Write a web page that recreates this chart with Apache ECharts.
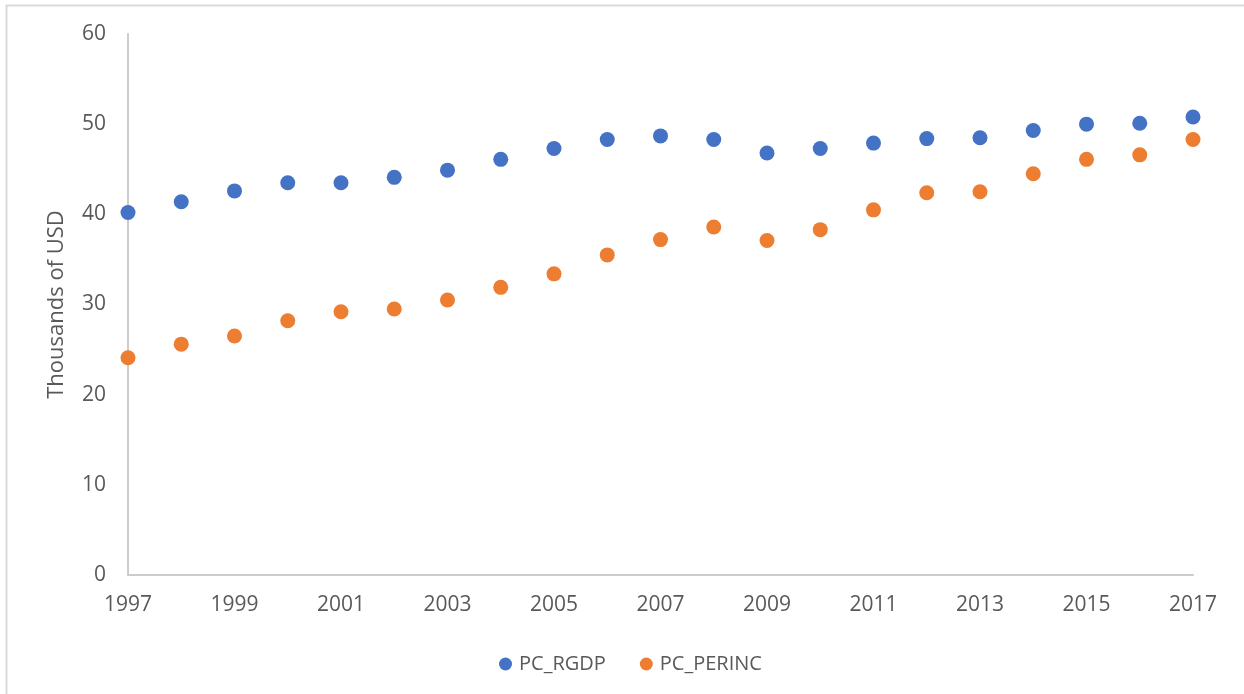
<!DOCTYPE html>
<html>
<head>
<meta charset="utf-8">
<script src="https://cdn.jsdelivr.net/npm/echarts@6/dist/echarts.min.js"></script>
<style>
  html, body { margin: 0; padding: 0; background: #ffffff; }
  #chart { width: 1244px; height: 694px; }
</style>
</head>
<body>
<div id="chart"></div>
<script>
// Per-capita real GDP and personal income, thousands of USD
const years = ['1997','1998','1999','2000','2001','2002','2003','2004','2005','2006','2007',
               '2008','2009','2010','2011','2012','2013','2014','2015','2016','2017'];
const pcRgdp = [40.2, 41.4, 42.6, 43.5, 43.5, 44.1, 44.9, 46.1, 47.3, 48.3, 48.7,
                48.3, 46.8, 47.3, 47.9, 48.4, 48.5, 49.3, 50.0, 50.1, 50.8];
const pcPerinc = [24.1, 25.6, 26.5, 28.2, 29.2, 29.5, 30.5, 31.9, 33.4, 35.5, 37.2,
                  38.6, 37.1, 38.3, 40.5, 42.4, 42.5, 44.5, 46.1, 46.6, 48.3];
const yTicks = [0, 10, 20, 30, 40, 50, 60];

const textColor = '#595959';
const lineColor = '#cccccc';
const fontFamily = '"Open Sans", "Noto Sans", sans-serif';

const chart = echarts.init(document.getElementById('chart'), null, { renderer: 'canvas' });

chart.setOption({
  backgroundColor: '#ffffff',
  animation: false,
  textStyle: { fontFamily: fontFamily, color: textColor },
  graphic: [{
    type: 'rect',
    shape: { x: 6.5, y: 5.5, width: 1300, height: 800 },
    style: { fill: 'none', stroke: '#d9d9d9', lineWidth: 2 },
    silent: true
  }],
  grid: { left: 128, right: 51, top: 34, bottom: 119, containLabel: false },
  legend: {
    left: 494,
    top: 649,
    icon: 'circle',
    itemWidth: 13,
    itemHeight: 13,
    itemGap: 34,
    textStyle: { fontSize: 20, color: textColor, fontFamily: fontFamily, padding: [0, 0, 0, 2] },
    data: ['PC_RGDP', 'PC_PERINC']
  },
  xAxis: {
    type: 'category',
    data: years,
    boundaryGap: false,
    axisLine: { show: true, lineStyle: { color: lineColor, width: 2 } },
    axisTick: { show: false },
    splitLine: { show: false },
    axisLabel: { interval: 1, margin: 20, fontSize: 21, color: textColor, fontFamily: fontFamily }
  },
  yAxis: {
    type: 'value',
    min: yTicks[0],
    max: yTicks[yTicks.length - 1],
    interval: 10,
    name: 'Thousands of USD',
    nameLocation: 'middle',
    nameRotate: 90,
    nameGap: 60,
    nameTextStyle: { fontSize: 22, color: textColor, fontFamily: fontFamily },
    axisLine: { show: true, lineStyle: { color: lineColor, width: 2 } },
    axisTick: { show: false },
    splitLine: { show: false },
    axisLabel: { margin: 22, fontSize: 21, color: textColor, fontFamily: fontFamily }
  },
  series: [
    {
      name: 'PC_RGDP',
      type: 'scatter',
      data: pcRgdp,
      symbolSize: 15,
      itemStyle: { color: '#4472C4', opacity: 1 }
    },
    {
      name: 'PC_PERINC',
      type: 'scatter',
      data: pcPerinc,
      symbolSize: 15,
      itemStyle: { color: '#ED7D31', opacity: 1 }
    }
  ]
});
</script>
</body>
</html>
